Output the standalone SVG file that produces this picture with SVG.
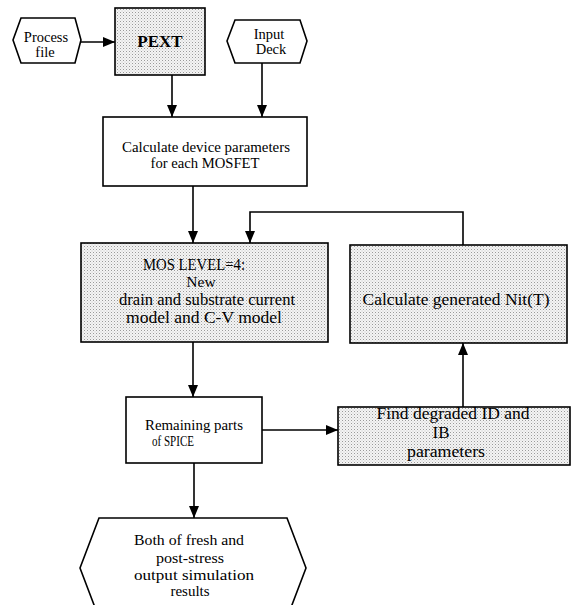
<svg xmlns="http://www.w3.org/2000/svg" width="576" height="605" viewBox="0 0 576 605">
<defs>
<pattern id="dots" width="3" height="3" patternUnits="userSpaceOnUse">
<rect width="3" height="3" fill="#f4f4f4"/>
<rect x="0" y="0" width="1" height="1" fill="#9a9a9a"/>
<rect x="1.5" y="1.5" width="1" height="1" fill="#c4c4c4"/>
</pattern>
<marker id="ah" markerUnits="userSpaceOnUse" markerWidth="12" markerHeight="10" refX="12" refY="5" orient="auto">
<path d="M0,0 L12,5 L0,10 z" fill="#000"/>
</marker>
</defs>
<style>
.box{stroke:#000;stroke-width:1.6;fill:#fff}
.shade{stroke:#000;stroke-width:1.6;fill:url(#dots)}
.t{font-family:"Liberation Serif","Times New Roman",serif;fill:#000;text-anchor:middle}
.c{fill:none;stroke:#000;stroke-width:1.6}
</style>
<rect width="576" height="605" fill="#fff"/>
<g id="connectors">
<line class="c" x1="81" y1="42" x2="115" y2="42" marker-end="url(#ah)"/>
<line class="c" x1="172" y1="75" x2="172" y2="117" marker-end="url(#ah)"/>
<line class="c" x1="262" y1="63" x2="262" y2="117" marker-end="url(#ah)"/>
<line class="c" x1="193" y1="186" x2="193" y2="243" marker-end="url(#ah)"/>
<polyline class="c" points="463,245 463,212 250,212 250,243" marker-end="url(#ah)"/>
<line class="c" x1="193" y1="342" x2="193" y2="397" marker-end="url(#ah)"/>
<line class="c" x1="262" y1="430" x2="338" y2="430" marker-end="url(#ah)"/>
<line class="c" x1="463" y1="407" x2="463" y2="343" marker-end="url(#ah)"/>
<line class="c" x1="194" y1="463" x2="194" y2="518" marker-end="url(#ah)"/>
</g>
<g id="process-file">
<polygon class="box" points="13,40 21,18 75,18 81,40 75,63 21,63"/>
<text class="t" x="46" y="42" font-size="14.5">Process</text>
<text class="t" x="45" y="57" font-size="14.5">file</text>
</g>
<g id="pext">
<rect class="shade" x="115" y="8" width="90" height="67"/>
<text class="t" x="160" y="47" font-size="17" font-weight="bold">PEXT</text>
</g>
<g id="input-deck">
<polygon class="box" points="227,41 235,20 300,20 307,41 300,63 235,63"/>
<text class="t" x="269" y="39" font-size="14.5">Input</text>
<text class="t" x="271" y="54" font-size="14.5">Deck</text>
</g>
<g id="calc-device">
<rect class="box" x="103" y="117" width="204" height="69"/>
<text class="t" x="206" y="152" font-size="15" textLength="168" lengthAdjust="spacingAndGlyphs">Calculate device parameters</text>
<text class="t" x="205" y="168" font-size="15" textLength="109" lengthAdjust="spacingAndGlyphs">for each MOSFET</text>
</g>
<g id="mos-level">
<rect class="shade" x="81" y="243" width="247" height="99"/>
<text class="t" x="194" y="270" font-size="16.5" textLength="102" lengthAdjust="spacingAndGlyphs">MOS LEVEL=4:</text>
<text class="t" x="201" y="287" font-size="15.5">New</text>
<text class="t" x="207" y="305" font-size="16" textLength="176" lengthAdjust="spacingAndGlyphs">drain and substrate current</text>
<text class="t" x="204" y="323" font-size="16" textLength="156" lengthAdjust="spacingAndGlyphs">model and C-V model</text>
</g>
<g id="calc-nit">
<rect class="shade" x="350" y="245" width="217" height="98"/>
<text class="t" x="456" y="305" font-size="17" textLength="187" lengthAdjust="spacingAndGlyphs">Calculate generated Nit(T)</text>
</g>
<g id="remaining">
<rect class="box" x="126" y="397" width="136" height="66"/>
<text class="t" x="194" y="430" font-size="15" textLength="98" lengthAdjust="spacingAndGlyphs">Remaining parts</text>
<text class="t" x="173" y="446" font-size="15" textLength="42" lengthAdjust="spacingAndGlyphs">of SPICE</text>
</g>
<g id="find-degraded">
<rect class="shade" x="338" y="407" width="232" height="58"/>
<text class="t" x="453" y="419" font-size="17" textLength="153" lengthAdjust="spacingAndGlyphs">Find degraded ID and</text>
<text class="t" x="441" y="438" font-size="17">IB</text>
<text class="t" x="446" y="457" font-size="16.5" textLength="78" lengthAdjust="spacingAndGlyphs">parameters</text>
</g>
<g id="output">
<polygon class="box" points="80,568 99,518 287,518 306,568 287,618 99,618"/>
<text class="t" x="189" y="545" font-size="15.5" textLength="110" lengthAdjust="spacingAndGlyphs">Both of fresh and</text>
<text class="t" x="190" y="563" font-size="15" textLength="68" lengthAdjust="spacingAndGlyphs">post-stress</text>
<text class="t" x="194" y="580" font-size="15.5" textLength="120" lengthAdjust="spacingAndGlyphs">output simulation</text>
<text class="t" x="190" y="596" font-size="15">results</text>
</g>
</svg>
